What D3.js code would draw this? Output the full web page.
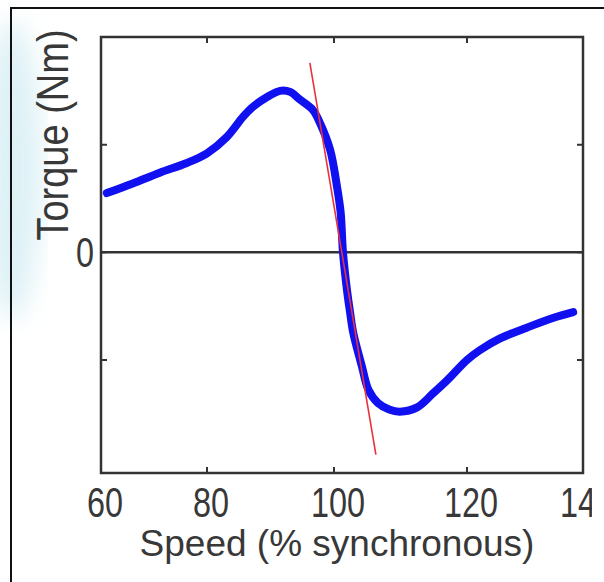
<!DOCTYPE html>
<html>
<head>
<meta charset="utf-8">
<script src="https://cdn.jsdelivr.net/npm/d3@7"></script>
<style>
  body { margin: 0; background: #fff; }
  text { font-family: "Liberation Sans", Arial, Helvetica, sans-serif; fill: #383838; }
</style>
</head>
<body>
<div id="chart"></div>
<script>
// Torque / speed curve
var speed  = [61.1, 66.0, 71.1, 76.2, 80.0, 83.1, 85.7, 87.2, 89.4, 91.5, 93.1, 94.6, 96.7, 97.8, 99.4,
              100.45, 101.0, 101.35, 101.95, 102.4, 102.9, 104.2, 105.2, 106.6, 108.3, 109.9, 112.5, 114.9,
              117.0, 120.0, 122.2, 125.7, 130.3, 134.8, 138.3];
var torque = [0.55, 0.64, 0.74, 0.83, 0.92, 1.07, 1.26, 1.35, 1.44, 1.50, 1.49, 1.42, 1.32, 1.20, 0.95,
              0.61, 0.37, 0.0, -0.35, -0.55, -0.75, -1.06, -1.28, -1.40, -1.46, -1.48, -1.44, -1.31,
              -1.19, -1.0, -0.91, -0.80, -0.70, -0.61, -0.555];
// tangent at synchronous speed
var tangentSpeed  = [96.2, 106.3];
var tangentTorque = [1.76, -1.88];

var xTicks = [60, 80, 100, 120, 140];
var yTicks = [-1, 0, 1];
var yLabels = [0];

var W = 604, H = 582;
var margin = {top: 37, right: 21, bottom: 109, left: 101};
var width = W - margin.left - margin.right;
var height = H - margin.top - margin.bottom;

// the printed axis is not evenly spaced, so map each tick where it sits
var x = d3.scaleLinear().domain(xTicks).range([0, 106, 233, 366, width]);
var y = d3.scaleLinear().domain([-2.05, 2.0]).range([height, 0]);

var svg = d3.select("#chart").append("svg")
    .attr("width", W).attr("height", H);

// faint watermark on the left
var defs = svg.append("defs");
defs.append("filter").attr("id", "soft")
  .append("feGaussianBlur").attr("stdDeviation", 12);
svg.append("ellipse")
    .attr("cx", 12).attr("cy", 170).attr("rx", 30).attr("ry", 150)
    .attr("fill", "#d6eef4").attr("opacity", 0.8).attr("filter", "url(#soft)");

// outer frame (top and left edges only are visible)
svg.append("path")
    .attr("d", "M11,582 L11,8 L604,8")
    .attr("fill", "none").attr("stroke", "#111").attr("stroke-width", 2);

defs.append("clipPath").attr("id", "cut")
  .append("rect").attr("x", 0).attr("y", 0).attr("width", 592).attr("height", H);

var g = svg.append("g").attr("transform", "translate(" + margin.left + "," + margin.top + ")");

g.append("rect").attr("width", width).attr("height", height).attr("fill", "#fff");

// zero line
g.append("line")
    .attr("x1", 0).attr("x2", width)
    .attr("y1", y(0)).attr("y2", y(0))
    .attr("stroke", "#333").attr("stroke-width", 2.5);

// the curve
var line = d3.line().x(function(d) { return x(d[0]); }).y(function(d) { return y(d[1]); })
    .curve(d3.curveCatmullRom);

g.append("path")
    .datum(d3.zip(speed, torque))
    .attr("d", line)
    .attr("fill", "none").attr("stroke", "#1010f0")
    .attr("stroke-width", 8).attr("stroke-linecap", "round").attr("stroke-linejoin", "round");

g.append("path")
    .datum(d3.zip(tangentSpeed, tangentTorque))
    .attr("d", d3.line().x(function(d) { return x(d[0]); }).y(function(d) { return y(d[1]); }))
    .attr("fill", "none").attr("stroke", "#e8323c").attr("stroke-width", 1.6);

// box + inward ticks on all sides
g.append("rect")
    .attr("width", width).attr("height", height)
    .attr("fill", "none").attr("stroke", "#333").attr("stroke-width", 2.5);

g.selectAll(".xt").data(xTicks.slice(1, -1)).enter().append("path")
    .attr("d", function(d) { return "M" + x(d) + "," + height + "v-6M" + x(d) + ",0v6"; })
    .attr("stroke", "#333").attr("stroke-width", 2);
g.selectAll(".yt").data(yTicks).enter().append("path")
    .attr("d", function(d) { return "M0," + y(d) + "h6M" + width + "," + y(d) + "h-6"; })
    .attr("stroke", "#333").attr("stroke-width", 2);

// tick labels (narrow, tall lettering as in the print)
var lab = svg.append("g").attr("clip-path", "url(#cut)");
lab.selectAll(".xl").data(xTicks).enter().append("text")
    .attr("transform", function(d) {
      return "translate(" + (margin.left + x(d) + 4) + ",517) scale(0.9,1.18)";
    })
    .attr("text-anchor", "middle")
    .style("font-size", "36px")
    .text(function(d) { return d; });

svg.selectAll(".yl").data(yLabels).enter().append("text")
    .attr("transform", function(d) {
      return "translate(94," + (margin.top + y(d) + 15) + ") scale(0.9,1.18)";
    })
    .attr("text-anchor", "end")
    .style("font-size", "36px")
    .text(function(d) { return d; });

// axis titles
svg.append("text")
    .attr("x", 337).attr("y", 556)
    .attr("text-anchor", "middle")
    .style("font-size", "37px")
    .text("Speed (% synchronous)");

svg.append("text")
    .attr("transform", "translate(68,135) rotate(-90) scale(1,1.15)")
    .attr("text-anchor", "middle")
    .style("font-size", "38px")
    .text("Torque (Nm)");
</script>
</body>
</html>
